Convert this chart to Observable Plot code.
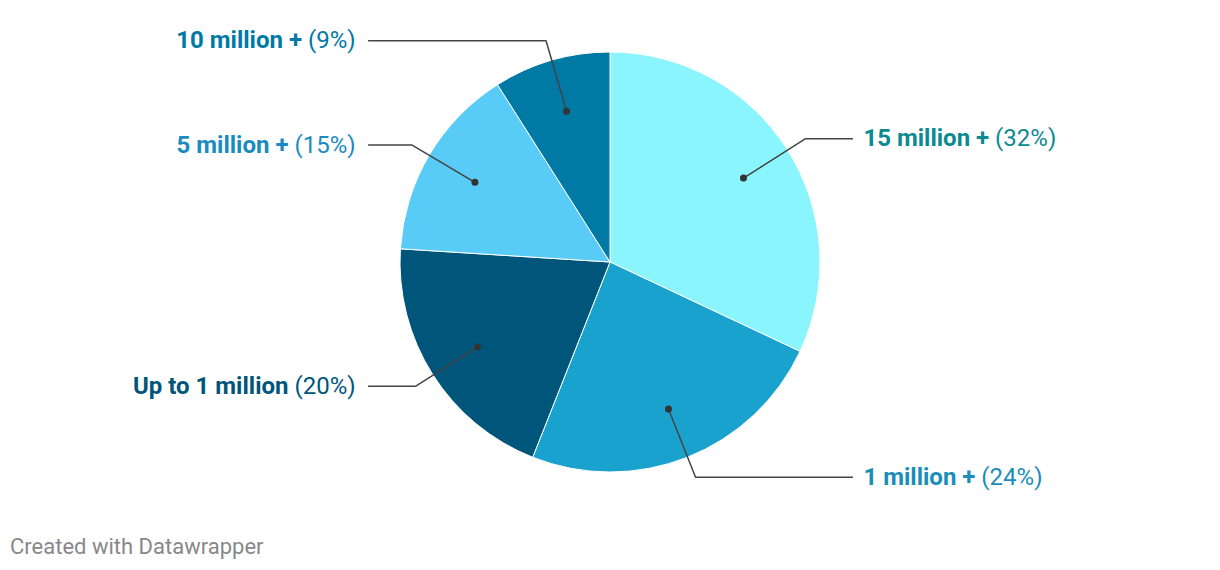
<!DOCTYPE html>
<html>
<head>
<meta charset="utf-8">
<script src="https://cdn.jsdelivr.net/npm/d3@7"></script>
<script src="https://cdn.jsdelivr.net/npm/@observablehq/plot@0.6"></script>
<style>
  html, body { margin: 0; padding: 0; background: #fff; }
  #chart svg { display: block; }
  .credit { font-family: Roboto, sans-serif; font-size: 22px; line-height: 26px; color: #888; padding-left: 10px; margin-top: 4px; }
</style>
</head>
<body>
<div id="chart"></div>
<div class="credit">Created with Datawrapper</div>
<script>
// ---- data ----
const categories = ["15 million +", "1 million +", "Up to 1 million", "5 million +", "10 million +"];
const shares = [32, 24, 20, 15, 9];
const sliceColors = ["#8af5fd", "#1aa2ce", "#00567a", "#58cbf6", "#0079a5"];
const labelColors = ["#0b8a8f", "#1a8db8", "#00567a", "#1a8bbf", "#0079a5"];

const data = categories.map((c, i) => ({key: c, share: shares[i], color: sliceColors[i], labelColor: labelColors[i]}));

// pie layout (angles clockwise from 12 o'clock)
const arcs = d3.pie().sort(null).value(d => d.share)(data);
const polar = (a, r) => [r * Math.sin(a), r * Math.cos(a)];

const R_DOT = 0.75, R_ELBOW = 1.1, X_END = 1.152;
const annot = arcs.map(a => {
  const mid = (a.startAngle + a.endAngle) / 2;
  const [dx, dy] = polar(mid, R_DOT);
  const [ex, ey] = polar(mid, R_ELBOW);
  const side = ex >= 0 ? 1 : -1;
  return {key: a.data.key, share: a.data.share, labelColor: a.data.labelColor,
          dx, dy, ex, ey, lx: side * X_END, side};
});
const leader = annot.flatMap(d => [
  {key: d.key, x: d.dx, y: d.dy},
  {key: d.key, x: d.ex, y: d.ey},
  {key: d.key, x: d.lx, y: d.ey}
]);
const right = annot.filter(d => d.side > 0);
const left = annot.filter(d => d.side < 0);

// pie slices drawn through Plot's x/y scales
function pieMark(index, scales) {
  const cx = scales.x(0), cy = scales.y(0);
  const r = scales.x(1) - scales.x(0);
  const arcGen = d3.arc().innerRadius(0).outerRadius(r);
  const g = d3.create("svg:g").attr("aria-label", "pie").attr("transform", `translate(${cx},${cy})`);
  g.selectAll("path").data(arcs).join("path")
    .attr("d", arcGen)
    .attr("fill", d => d.data.color)
    .attr("stroke", "#fff")
    .attr("stroke-width", 1);
  return g.node();
}

const plot = Plot.plot({
  width: 1220,
  height: 530,
  margin: 0,
  x: {domain: [-1, 1], range: [400, 820], axis: null},
  y: {domain: [-1, 1], range: [472, 52], axis: null},
  style: {fontFamily: "Roboto, sans-serif", background: "#fff"},
  marks: [
    pieMark,
    Plot.line(leader, {x: "x", y: "y", z: "key", stroke: "#444", strokeWidth: 1.5, strokeLinejoin: "miter"}),
    Plot.dot(annot, {x: "dx", y: "dy", r: 3.5, fill: "#333", stroke: null}),
    Plot.text(right, {x: "lx", y: "ey", text: "key", fill: "labelColor", textAnchor: "start", dx: 11,
                      fontSize: 24, fontWeight: "bold"}),
    Plot.text(left, {x: "lx", y: "ey", text: "key", fill: "labelColor", textAnchor: "end", dx: -13,
                     fontSize: 24, fontWeight: "bold"})
  ]
});

document.getElementById("chart").appendChild(plot);

// append the regular-weight share to each bold label
const shareByKey = new Map(data.map(d => [d.key, d.share]));
plot.querySelectorAll("text").forEach(t => {
  const k = t.textContent;
  if (shareByKey.has(k)) {
    const ts = document.createElementNS("http://www.w3.org/2000/svg", "tspan");
    ts.setAttribute("font-weight", "normal");
    ts.textContent = ` (${shareByKey.get(k)}%)`;
    t.appendChild(ts);
  }
});
</script>
</body>
</html>
